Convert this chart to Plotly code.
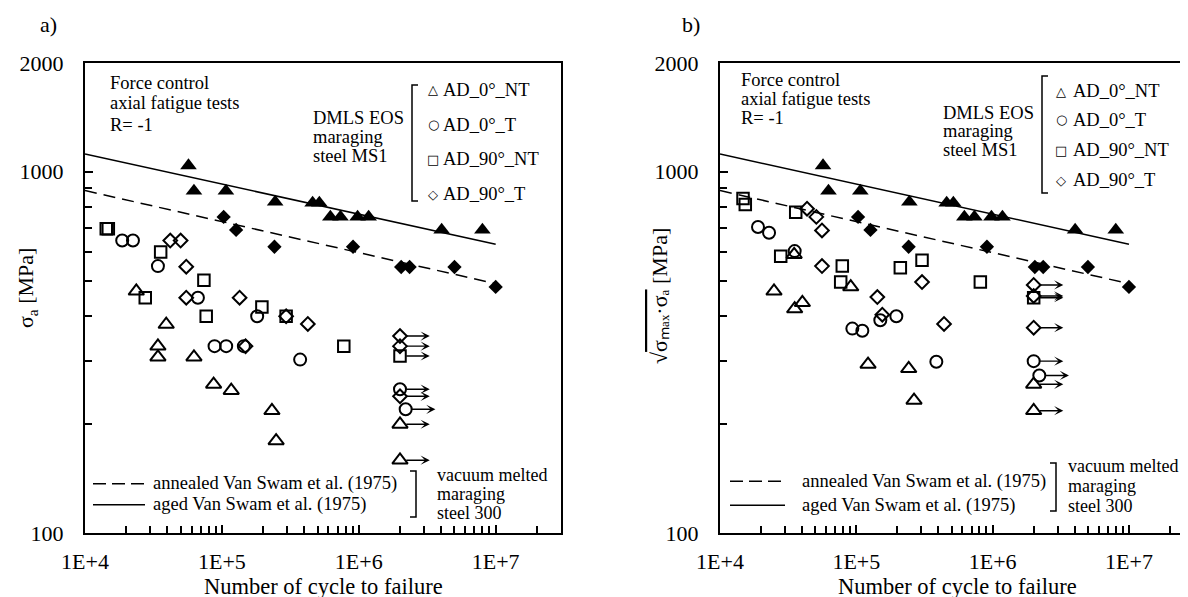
import math
import plotly.graph_objects as go

W, H = 1188, 597
SERIF = "Liberation Serif"

# ---------------- data ----------------
series_names = ["AD_0°_NT", "AD_0°_T", "AD_90°_NT", "AD_90°_T"]
x_tickvals = [1e4, 1e5, 1e6, 1e7]
x_ticktext = ["1E+4", "1E+5", "1E+6", "1E+7"]
y_tickvals = [100, 1000, 2000]
y_ticktext = ["100", "1000", "2000"]

# Van Swam et al. (1975), vacuum melted maraging steel 300 (same in both panels)
aged_N = [57000, 62500, 107000, 245000, 460000, 515000, 620000, 735000, 980000, 1180000, 4030000, 8000000]
aged_S = [1040, 885, 885, 825, 820, 820, 750, 750, 750, 750, 690, 690]
annealed_N = [103000, 127000, 242000, 908000, 2040000, 2350000, 5000000, 10000000]
annealed_S = [750, 690, 620, 620, 545, 545, 545, 480]
aged_fit_N = [1e4, 1e7]
aged_fit_S = [1120, 630]
annealed_fit_N = [1e4, 1e7]
annealed_fit_S = [887, 490]

# panel a) : sigma_a
a_0NT_N = [23700, 39200, 34100, 34100, 62500, 87000, 117000, 232000, 249000]
a_0NT_S = [467, 378, 329, 307, 307, 258, 248, 218, 180]
a_0NT_runN = [2e6, 2e6]
a_0NT_runS = [200, 159]
a_0T_N = [18700, 22400, 34100, 66800, 88400, 107500, 144700, 181000, 372800]
a_0T_S = [645, 645, 548, 448, 329, 329, 329, 398, 302]
a_0T_runN = [2e6, 2.2e6]
a_0T_runS = [250, 220]
a_90NT_N = [14300, 14800, 35700, 73900, 27550, 196000, 76800, 294600, 777000]
a_90NT_S = [695, 695, 600, 501, 448, 422, 398, 398, 329]
a_90NT_runN = [2e6]
a_90NT_runS = [309]
a_90T_N = [41950, 49950, 54900, 54900, 134700, 148900, 294600, 424400]
a_90T_S = [645, 645, 546, 448, 448, 329, 398, 379]
a_90T_runN = [2e6, 2e6, 2e6]
a_90T_runS = [351, 329, 239]

# panel b) : sqrt(sigma_max * sigma_a)
b_0NT_N = [24900, 35000, 35300, 40200, 91000, 121900, 242300, 265000]
b_0NT_S = [467, 590, 417, 434, 480, 293, 285, 233]
b_0NT_runN = [2e6, 2e6]
b_0NT_runS = [258, 218]
b_0T_N = [19000, 22900, 35300, 93500, 110700, 150000, 196600, 386400]
b_0T_S = [703, 678, 603, 368, 363, 388, 398, 298]
b_0T_runN = [2e6, 2.2e6]
b_0T_runS = [299, 273]
b_90NT_N = [14750, 15330, 35930, 27880, 78900, 76800, 210300, 303400, 812400]
b_90NT_S = [843, 812, 773, 584, 548, 495, 542, 569, 495]
b_90NT_runN = [2e6]
b_90NT_runS = [448]
b_90T_N = [43500, 50900, 56000, 56000, 142600, 155100, 303400, 440000]
b_90T_S = [790, 750, 688, 548, 450, 402, 495, 379]
b_90T_runN = [2e6, 2e6, 2e6]
b_90T_runS = [486, 453, 370]

# ---------------- helpers ----------------
def fx(px):
    return px / W


def fy(py):
    return 1 - py / H


OPEN_STYLE = {
    "AD_0°_NT": dict(symbol="triangle-up-open", size=13.5),
    "AD_0°_T": dict(symbol="circle-open", size=12),
    "AD_90°_NT": dict(symbol="square-open", size=11.5),
    "AD_90°_T": dict(symbol="diamond-open", size=10.5),
}
GLYPH = {"AD_0°_NT": "△", "AD_0°_T": "○", "AD_90°_NT": "□", "AD_90°_T": "◇"}

fig = go.Figure()
annotations = []
shapes = []


def add_panel(xr, yr, sets):
    fig.add_trace(go.Scatter(x=aged_fit_N, y=aged_fit_S, mode="lines", xaxis=xr, yaxis=yr,
                             line=dict(color="black", width=1.5), showlegend=False, hoverinfo="skip"))
    fig.add_trace(go.Scatter(x=annealed_fit_N, y=annealed_fit_S, mode="lines", xaxis=xr, yaxis=yr,
                             line=dict(color="black", width=1.5, dash="12px,7px"), showlegend=False,
                             hoverinfo="skip"))
    fig.add_trace(go.Scatter(x=aged_N, y=aged_S, mode="markers", xaxis=xr, yaxis=yr,
                             marker=dict(symbol="triangle-up", size=14.5, color="black"), showlegend=False))
    fig.add_trace(go.Scatter(x=annealed_N, y=annealed_S, mode="markers", xaxis=xr, yaxis=yr,
                             marker=dict(symbol="diamond", size=11, color="black"), showlegend=False))
    for name, (N, S, rN, rS) in zip(series_names, sets):
        st = OPEN_STYLE[name]
        mk = dict(symbol=st["symbol"], size=st["size"], color="black", line=dict(width=2, color="black"))
        fig.add_trace(go.Scatter(x=N + rN, y=S + rS, mode="markers", xaxis=xr, yaxis=yr, name=name,
                                 marker=mk, showlegend=False))
        for n, s in zip(rN, rS):
            annotations.append(dict(x=math.log10(n * 1.65), y=math.log10(s), xref=xr, yref=yr,
                                    text="", showarrow=True, ax=-25, ay=0, arrowhead=3,
                                    arrowsize=1.1, arrowwidth=1.4, arrowcolor="black"))


add_panel("x", "y", [(a_0NT_N, a_0NT_S, a_0NT_runN, a_0NT_runS),
                     (a_0T_N, a_0T_S, a_0T_runN, a_0T_runS),
                     (a_90NT_N, a_90NT_S, a_90NT_runN, a_90NT_runS),
                     (a_90T_N, a_90T_S, a_90T_runN, a_90T_runS)])
add_panel("x2", "y2", [(b_0NT_N, b_0NT_S, b_0NT_runN, b_0NT_runS),
                       (b_0T_N, b_0T_S, b_0T_runN, b_0T_runS),
                       (b_90NT_N, b_90NT_S, b_90NT_runN, b_90NT_runS),
                       (b_90T_N, b_90T_S, b_90T_runN, b_90T_runS)])

x_minor = [m * d for d in (1e4, 1e5, 1e6) for m in range(2, 10)] + [2e7]
y_minor = [m * 100 for m in range(2, 10)]


def xaxis_cfg(domain, anchor):
    return dict(type="log", range=[4, math.log10(3e7)], domain=domain, anchor=anchor,
                showgrid=False, zeroline=False, showline=True, linecolor="black", linewidth=2,
                mirror=True, ticks="inside", ticklen=8, tickwidth=1.5, tickcolor="black",
                tickmode="array", tickvals=x_tickvals, ticktext=x_ticktext,
                tickfont=dict(family=SERIF, size=22, color="black"), ticklabelstandoff=8,
                minor=dict(tickmode="array", tickvals=x_minor, ticks="inside", ticklen=7,
                           tickwidth=1.5, tickcolor="black", showgrid=False),
                automargin=False, fixedrange=True)


def yaxis_cfg(anchor):
    return dict(type="log", range=[2, math.log10(2000)], domain=[fy(525), fy(55)], anchor=anchor,
                showgrid=False, zeroline=False, showline=True, linecolor="black", linewidth=2,
                mirror=True, ticks="inside", ticklen=8, tickwidth=1.5, tickcolor="black",
                tickmode="array", tickvals=y_tickvals, ticktext=y_ticktext,
                tickfont=dict(family=SERIF, size=22, color="black"), ticklabelstandoff=15,
                minor=dict(tickmode="array", tickvals=y_minor, ticks="inside", ticklen=7,
                           tickwidth=1.5, tickcolor="black", showgrid=False),
                automargin=False, fixedrange=True)


def text(t, px, py, size=18.5, xanchor="left", family=SERIF, angle=0):
    annotations.append(dict(text=t, x=fx(px), y=fy(py), xref="paper", yref="paper",
                            xanchor=xanchor, yanchor="middle", showarrow=False, textangle=angle,
                            font=dict(family=family, size=size, color="black")))


def line(x0, y0, x1, y1, dash=None):
    shapes.append(dict(type="line", xref="paper", yref="paper", x0=fx(x0), y0=fy(y0), x1=fx(x1), y1=fy(y1),
                       line=dict(color="black", width=1.5, dash=dash)))


def path(pts):
    d = "M " + " L ".join(f"{fx(a)},{fy(b)}" for a, b in pts)
    shapes.append(dict(type="path", xref="paper", yref="paper", path=d,
                       line=dict(color="black", width=1.5)))


# panel labels
text("a)", 40, 17, size=22, xanchor="center")
text("b)", 683, 17, size=22, xanchor="center")

# axis titles
text("σ<sub>a</sub> [MPa]", 19, 280, size=22, xanchor="center", angle=-90)
text('√<span style="text-decoration:overline">σₘₐₓ·σₐ</span> [MPa]', 651, 288,
     size=22, xanchor="center", angle=-90)
text("Number of cycle to failure", 315, 578, size=22.5, xanchor="center")
text("Number of cycle to failure", 949, 578, size=22.5, xanchor="center")

panel_layout = [
    dict(force_x=100, force_y=[75, 95, 116.7], dmls_x=303, dmls_y=[110, 129.3, 148.3],
         brk_x=404, brk_y=(77, 193), leg_x=425, leg_tx=433, leg_y=[82, 117, 151, 186],
         samp=(85, 137), samp_y=(475.7, 496.7), samp_tx=143,
         rb_x=408, rb_y=(463, 509), vac_x=427, vac_y=[467, 486, 505]),
    dict(force_x=731, force_y=[71.7, 90.5, 110], dmls_x=933, dmls_y=[105, 123.3, 141.7],
         brk_x=1034, brk_y=(68, 185), leg_x=1053, leg_tx=1063, leg_y=[83, 112, 142, 172],
         samp=(722, 777), samp_y=(473.3, 497.3), samp_tx=792,
         rb_x=1048, rb_y=(455, 503), vac_x=1058, vac_y=[458, 478, 498]),
]
for L in panel_layout:
    for t, yy in zip(["Force control", "axial fatigue tests", "R= -1"], L["force_y"]):
        text(t, L["force_x"], yy)
    for t, yy in zip(["DMLS EOS", "maraging", "steel MS1"], L["dmls_y"]):
        text(t, L["dmls_x"], yy)
    bx = L["brk_x"]
    path([(bx + 6, L["brk_y"][0]), (bx, L["brk_y"][0]), (bx, L["brk_y"][1]), (bx + 6, L["brk_y"][1])])
    for name, yy in zip(series_names, L["leg_y"]):
        text("<b>" + GLYPH[name] + "</b>", L["leg_x"], yy, size=13, xanchor="center", family="DejaVu Sans")
        text(name, L["leg_tx"], yy)
    s0, s1 = L["samp"]
    line(s0, L["samp_y"][0], s1, L["samp_y"][0], dash="13px,6px")
    line(s0, L["samp_y"][1], s1, L["samp_y"][1])
    text("annealed Van Swam et al. (1975)", L["samp_tx"], L["samp_y"][0])
    text("aged Van Swam et al. (1975)", L["samp_tx"], L["samp_y"][1])
    rx = L["rb_x"]
    path([(rx - 6, L["rb_y"][0]), (rx, L["rb_y"][0]), (rx, L["rb_y"][1]), (rx - 6, L["rb_y"][1])])
    for t, yy in zip(["vacuum melted", "maraging", "steel 300"], L["vac_y"]):
        text(t, L["vac_x"], yy, size=18)

fig.update_layout(
    width=W, height=H, margin=dict(l=0, r=0, t=0, b=0),
    paper_bgcolor="white", plot_bgcolor="white", showlegend=False,
    xaxis=xaxis_cfg([fx(77), fx(553)], "y"),
    yaxis=yaxis_cfg("x"),
    xaxis2=xaxis_cfg([fx(712), fx(1186)], "y2"),
    yaxis2=yaxis_cfg("x2"),
    annotations=annotations, shapes=shapes,
    font=dict(family=SERIF, color="black"),
)

fig.write_html("out.html")
